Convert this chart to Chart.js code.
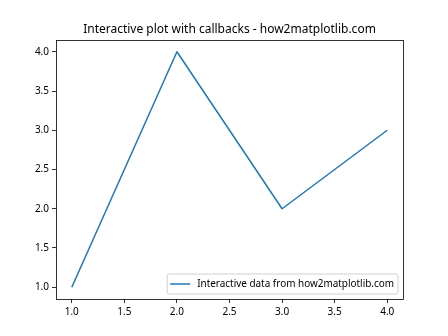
<!DOCTYPE html>
<html><head><meta charset="utf-8">
<script src="https://cdn.jsdelivr.net/npm/chart.js@4"></script>
<style>html,body{margin:0;padding:0;background:#fff}#c{display:block}</style>
</head><body>
<canvas id="c" width="448" height="336"></canvas>
<script>
const xValues = [1, 2, 3, 4];
const yValues = [1, 4, 2, 3];
const xTicks = [1.0, 1.5, 2.0, 2.5, 3.0, 3.5, 4.0];
const yTicks = [1.0, 1.5, 2.0, 2.5, 3.0, 3.5, 4.0];
const titleText = 'Interactive plot with callbacks - how2matplotlib.com';
const seriesLabel = 'Interactive data from how2matplotlib.com';

const FONT = '"Noto Sans", "Open Sans", sans-serif';
const lineColor = '#1f77b4';

const framePlugin = {
  id: 'frame',
  afterDraw(chart) {
    const ctx = chart.ctx, a = chart.chartArea;
    ctx.save();
    ctx.strokeStyle = '#000'; ctx.lineWidth = 0.8;
    ctx.strokeRect(Math.round(a.left)+0.5, Math.round(a.top)+0.5, Math.round(a.right-a.left), Math.round(a.bottom-a.top));
    // title
    ctx.fillStyle = '#000';
    ctx.font = '12px ' + FONT;
    ctx.textAlign = 'center'; ctx.textBaseline = 'alphabetic';
    ctx.fillText(titleText, (a.left + a.right) / 2, a.top - 7);
    // legend
    let fs = 10;
    ctx.font = fs + 'px ' + FONT;
    let tw = ctx.measureText(seriesLabel).width;
    if (tw > 197) { fs = 10 * 197 / tw; ctx.font = fs + 'px ' + FONT; tw = ctx.measureText(seriesLabel).width; }
    const w = tw + 34, h = 20;
    const x0 = a.right - 5 - w, y0 = a.bottom - 5 - h;
    ctx.beginPath();
    const r = 2;
    ctx.moveTo(x0 + r, y0);
    ctx.arcTo(x0 + w, y0, x0 + w, y0 + h, r);
    ctx.arcTo(x0 + w, y0 + h, x0, y0 + h, r);
    ctx.arcTo(x0, y0 + h, x0, y0, r);
    ctx.arcTo(x0, y0, x0 + w, y0, r);
    ctx.closePath();
    ctx.fillStyle = 'rgba(255,255,255,0.8)'; ctx.fill();
    ctx.strokeStyle = '#d0d0d0'; ctx.lineWidth = 1; ctx.stroke();
    ctx.beginPath();
    ctx.moveTo(x0 + 3, y0 + h / 2); ctx.lineTo(x0 + 23, y0 + h / 2);
    ctx.strokeStyle = lineColor; ctx.lineWidth = 1.5; ctx.stroke();
    ctx.fillStyle = '#000'; ctx.textAlign = 'left'; ctx.textBaseline = 'middle';
    ctx.fillText(seriesLabel, x0 + 30, y0 + h / 2 + 0.5);
    ctx.restore();
  }
};

new Chart(document.getElementById('c'), {
  type: 'line',
  data: {
    datasets: [{
      label: seriesLabel,
      data: xValues.map((x, i) => ({ x: x, y: yValues[i] })),
      borderColor: lineColor,
      borderWidth: 1.5,
      borderJoinStyle: 'round',
      borderCapStyle: 'butt',
      pointRadius: 0,
      fill: false,
      tension: 0
    }]
  },
  options: {
    responsive: false,
    animation: false,
    events: [],
    layout: { padding: { top: 40, right: 45, left: 0, bottom: 0 } },
    plugins: { legend: { display: false }, title: { display: false }, tooltip: { enabled: false } },
    scales: {
      x: {
        type: 'linear', min: 0.85, max: 4.15,
        afterBuildTicks(s) { s.ticks = xTicks.map(v => ({ value: v })); },
        afterFit(s) { s.height = 37; },
        grid: { drawOnChartArea: false, drawTicks: true, tickLength: 4, color: '#000', lineWidth: 0.8 },
        border: { display: false },
        ticks: { color: '#000', padding: 3, maxRotation: 0, autoSkip: false, font: { family: FONT, size: 10 }, callback: v => v.toFixed(1) }
      },
      y: {
        type: 'linear', min: 0.85, max: 4.15,
        afterBuildTicks(s) { s.ticks = yTicks.map(v => ({ value: v })); },
        afterFit(s) { s.width = 56; },
        grid: { drawOnChartArea: false, drawTicks: true, tickLength: 4, color: '#000', lineWidth: 0.8 },
        border: { display: false },
        ticks: { color: '#000', padding: 3, autoSkip: false, font: { family: FONT, size: 10 }, callback: v => v.toFixed(1) }
      }
    }
  },
  plugins: [framePlugin]
});
</script>
</body></html>
